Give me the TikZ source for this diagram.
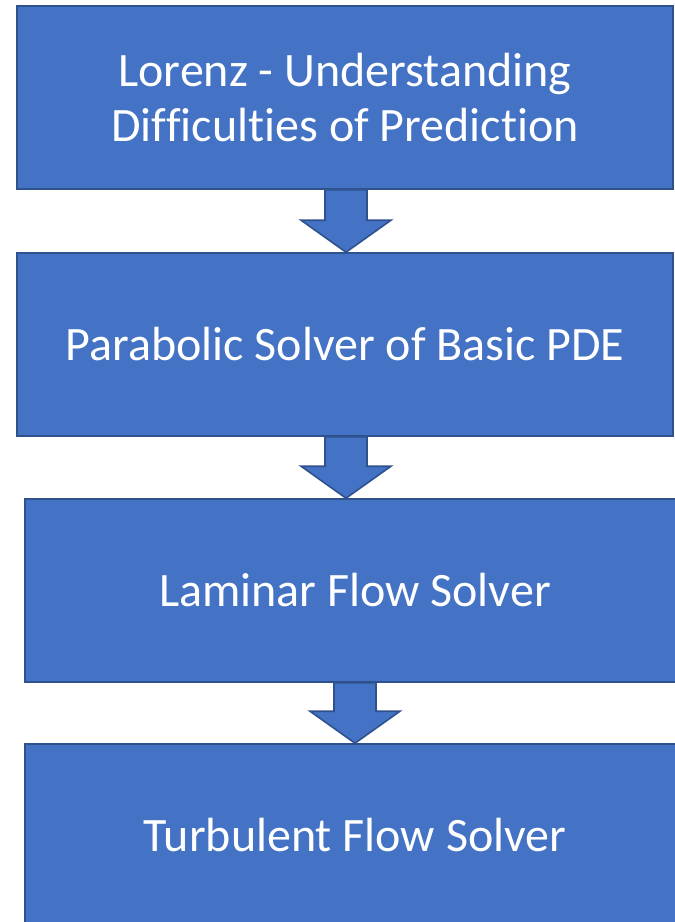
\documentclass[tikz,border=0pt]{standalone}
\usepackage{fontspec}
\setmainfont{Carlito}[Ligatures={NoCommon,NoContextual,NoRare,NoDiscretionary}]
\usetikzlibrary{calc}
\definecolor{boxfill}{HTML}{4472C4}
\definecolor{boxline}{HTML}{2F528F}
\newcommand{\BlkArrow}[2]{%
  \draw[blockarrow] ($(#1)+(-21pt,0)$) -- ($(#1)+(21pt,0)$) -- ($(#2)+(21pt,32pt)$)
    -- ($(#2)+(45pt,32pt)$) -- (#2) -- ($(#2)+(-45pt,32pt)$) -- ($(#2)+(-21pt,32pt)$) -- cycle;}
\begin{document}
\begin{tikzpicture}[x=1pt,y=1pt,
  stagebox/.style={draw=boxline, line width=1.6pt, fill=boxfill, text=white,
    minimum height=183pt, inner sep=0pt, align=center,
    font=\fontsize{48}{55}\selectfont},
  blockarrow/.style={draw=boxline, line width=1.6pt, fill=boxfill, line join=miter}]
\useasboundingbox (0,0) rectangle (675,-922);
\node[stagebox, minimum width=656pt] (b1) at (345,-97.5) {Lorenz - Understanding\\Dif\kern0ptf\kern0ptic\kern0ptult\kern0pties of Predict\kern0ption};
\node[stagebox, minimum width=656pt] (b2) at (345,-344.5) {Parabolic Solver of Basic PDE};
\node[stagebox, minimum width=660pt] (b3) at (355,-590.5) {Laminar Flow Solver};
\node[stagebox, minimum width=660pt] (b4) at (355,-835.5) {Turbulent Flow Solver};
\coordinate (a1t) at (b1.south -| 346,0);
\coordinate (a1b) at (b2.north -| 346,0);
\coordinate (a2t) at (b2.south -| 346,0);
\coordinate (a2b) at (b3.north -| 346,0);
\coordinate (a3t) at (b3.south -| 355,0);
\coordinate (a3b) at (b4.north -| 355,0);
\BlkArrow{a1t}{a1b}
\BlkArrow{a2t}{a2b}
\BlkArrow{a3t}{a3b}
\end{tikzpicture}
\end{document}
